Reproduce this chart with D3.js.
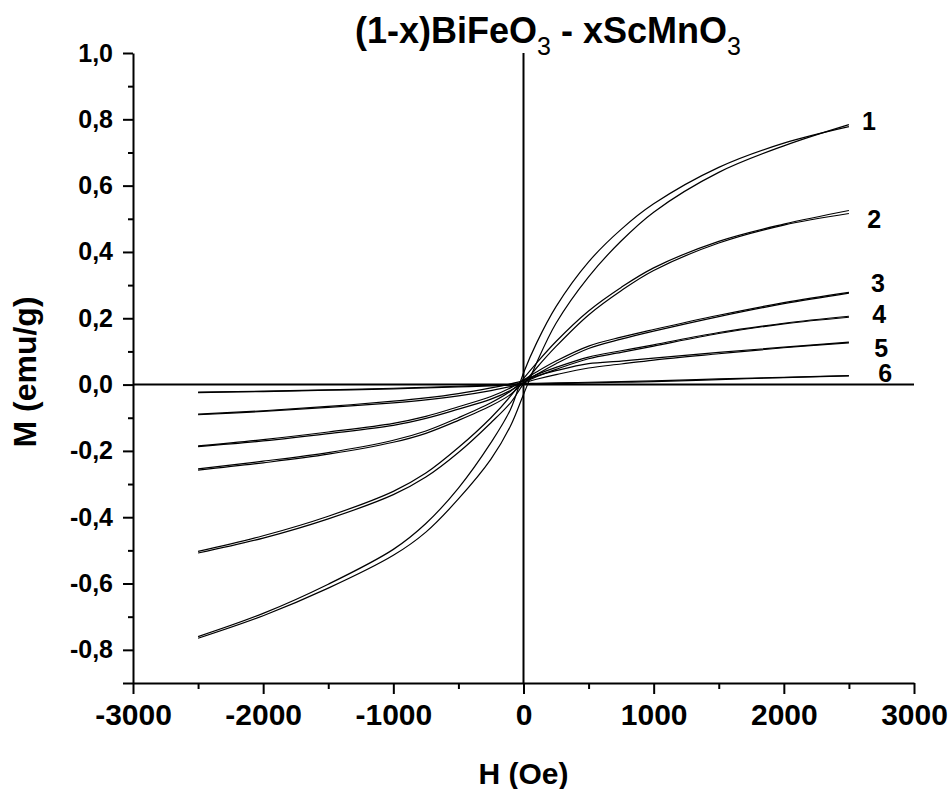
<!DOCTYPE html>
<html>
<head>
<meta charset="utf-8">
<script src="https://cdn.jsdelivr.net/npm/d3@7"></script>
<style>
  body { margin: 0; background: #fff; }
  text { font-family: "Liberation Sans", Arial, sans-serif; font-weight: bold; fill: #000; }
</style>
</head>
<body>
<div id="chart"></div>
<script>
// field values (Oe) shared by every branch
var hField = [-2500, -2000, -1500, -1000, -750, -500, -250, -100, 0, 100, 250, 500, 750, 1000, 1500, 2000, 2500];

// magnetisation (emu/g), descending-field branch / ascending-field branch
var m1Down = [-0.760, -0.690, -0.602, -0.497, -0.419, -0.312, -0.175, -0.075, 0.035, 0.125, 0.235, 0.370, 0.468, 0.545, 0.655, 0.728, 0.778];
var m1Up   = [-0.765, -0.697, -0.614, -0.515, -0.445, -0.345, -0.225, -0.125, -0.030, 0.065, 0.185, 0.325, 0.433, 0.520, 0.640, 0.720, 0.784];
var m2Down = [-0.503, -0.456, -0.397, -0.322, -0.267, -0.190, -0.100, -0.035, 0.018, 0.065, 0.130, 0.222, 0.293, 0.352, 0.432, 0.484, 0.525];
var m2Up   = [-0.508, -0.463, -0.405, -0.332, -0.279, -0.205, -0.115, -0.055, 0.002, 0.050, 0.115, 0.210, 0.283, 0.344, 0.427, 0.481, 0.516];
var m3Down = [-0.254, -0.231, -0.205, -0.168, -0.140, -0.100, -0.055, -0.020, 0.013, 0.038, 0.071, 0.116, 0.143, 0.166, 0.209, 0.247, 0.278];
var m3Up   = [-0.258, -0.236, -0.210, -0.174, -0.147, -0.108, -0.064, -0.030, 0.005, 0.030, 0.063, 0.109, 0.137, 0.161, 0.205, 0.244, 0.276];
var m4Down = [-0.185, -0.166, -0.143, -0.117, -0.096, -0.067, -0.036, -0.010, 0.013, 0.030, 0.052, 0.083, 0.102, 0.120, 0.157, 0.185, 0.206];
var m4Up   = [-0.187, -0.170, -0.148, -0.123, -0.102, -0.074, -0.044, -0.018, 0.006, 0.024, 0.046, 0.078, 0.097, 0.116, 0.154, 0.183, 0.203];
var m5Down = [-0.089, -0.079, -0.066, -0.050, -0.040, -0.027, -0.010, 0.002, 0.012, 0.026, 0.042, 0.063, 0.071, 0.080, 0.097, 0.113, 0.128];
var m5Up   = [-0.091, -0.081, -0.069, -0.055, -0.046, -0.034, -0.018, -0.006, 0.005, 0.016, 0.030, 0.050, 0.062, 0.074, 0.093, 0.111, 0.126];
var m6Down = [-0.023, -0.020, -0.016, -0.011, -0.008, -0.005, -0.002, 0.000, 0.003, 0.004, 0.005, 0.007, 0.009, 0.011, 0.017, 0.022, 0.027];
var m6Up   = [-0.024, -0.021, -0.017, -0.013, -0.010, -0.007, -0.004, -0.002, 0.001, 0.002, 0.003, 0.005, 0.007, 0.009, 0.015, 0.021, 0.026];

var curveNames = ['1', '2', '3', '4', '5', '6'];
var labelH = [2600, 2640, 2670, 2680, 2695, 2725];
var labelM = [0.768, 0.473, 0.280, 0.187, 0.084, 0.009];

var xTicks = [-3000, -2000, -1000, 0, 1000, 2000, 3000];
var xTickLabels = ['-3000', '-2000', '-1000', '0', '1000', '2000', '3000'];
var yTicks = [-0.8, -0.6, -0.4, -0.2, 0, 0.2, 0.4, 0.6, 0.8, 1.0];
var yTickLabels = ['-0,8', '-0,6', '-0,4', '-0,2', '0,0', '0,2', '0,4', '0,6', '0,8', '1,0'];

var loops = [[m1Down, m1Up], [m2Down, m2Up], [m3Down, m3Up], [m4Down, m4Up], [m5Down, m5Up], [m6Down, m6Up]];

var width = 951, height = 789;

var svg = d3.select('#chart').append('svg')
    .attr('width', width)
    .attr('height', height);

var x = d3.scaleLinear().domain([-3000, 3000]).range([133, 914]);
var y = d3.scaleLinear().domain([-0.9, 1.0]).range([683, 53]);

// minor ticks first so the axis line sits on top
var xMinor = d3.range(-2500, 3000, 1000);
var yMinor = d3.range(-9, 10, 2).map(function(d) { return d / 10; });

svg.append('g')
    .attr('transform', 'translate(0,' + y(-0.9) + ')')
    .call(d3.axisBottom(x).tickValues(xMinor).tickSize(6).tickFormat(''))
    .call(function(g) { g.select('.domain').remove(); })
    .selectAll('line').attr('stroke-width', 2);

svg.append('g')
    .attr('transform', 'translate(' + x(-3000) + ',0)')
    .call(d3.axisLeft(y).tickValues(yMinor.filter(function(d) { return d > -0.85; })).tickSize(5).tickFormat(''))
    .call(function(g) { g.select('.domain').remove(); })
    .selectAll('line').attr('stroke-width', 2);

var xAxis = svg.append('g')
    .attr('transform', 'translate(0,' + y(-0.9) + ')')
    .call(d3.axisBottom(x).tickValues(xTicks).tickSize(11).tickSizeOuter(0).tickPadding(10)
      .tickFormat(function(d, i) { return xTickLabels[i]; }));
xAxis.select('.domain').attr('stroke-width', 2);
xAxis.selectAll('line').attr('stroke-width', 2);
xAxis.selectAll('text')
    .style('font-size', '30px')
    .style('font-family', '"Liberation Sans", Arial, sans-serif')
    .style('font-weight', 'bold');

var yAxis = svg.append('g')
    .attr('transform', 'translate(' + x(-3000) + ',0)')
    .call(d3.axisLeft(y).tickValues(yTicks.concat([-0.9])).tickSize(10).tickSizeOuter(0).tickPadding(10)
      .tickFormat(function(d) { var i = yTicks.indexOf(d); return i < 0 ? '' : yTickLabels[i]; }));
yAxis.select('.domain').attr('stroke-width', 2);
yAxis.selectAll('line').attr('stroke-width', 2);
yAxis.selectAll('text')
    .style('font-size', '25px')
    .style('font-family', '"Liberation Sans", Arial, sans-serif')
    .style('font-weight', 'bold');

// zero lines through the middle
svg.append('line')
    .attr('x1', x(-3000)).attr('x2', x(3000))
    .attr('y1', y(0)).attr('y2', y(0))
    .attr('stroke', '#000').attr('stroke-width', 2);
svg.append('line')
    .attr('x1', x(0)).attr('x2', x(0))
    .attr('y1', y(1.0)).attr('y2', y(-0.9))
    .attr('stroke', '#000').attr('stroke-width', 2);

var line = d3.line()
    .x(function(d) { return x(d[0]); })
    .y(function(d) { return y(d[1]); })
    .curve(d3.curveCatmullRom.alpha(0.5));

var branches = [];
loops.forEach(function(loop) {
  loop.forEach(function(m) {
    branches.push(hField.map(function(h, i) { return [h, m[i]]; }));
  });
});

svg.append('g')
    .selectAll('path')
    .data(branches)
    .enter()
    .append('path')
    .attr('d', line)
    .attr('fill', 'none')
    .attr('stroke', '#000')
    .attr('stroke-width', 1.2);

svg.append('g')
    .selectAll('text')
    .data(curveNames)
    .enter()
    .append('text')
    .attr('x', function(d, i) { return x(labelH[i]); })
    .attr('y', function(d, i) { return y(labelM[i]); })
    .style('font-size', '25px')
    .text(function(d) { return d; });

// titles
var title = svg.append('text')
    .attr('x', 548)
    .attr('y', 43)
    .attr('text-anchor', 'middle')
    .style('font-size', '36px');
title.append('tspan').text('(1-x)BiFeO');
title.append('tspan').attr('dy', 12).style('font-size', '25px').style('font-weight', 'normal').text('3');
title.append('tspan').attr('dy', -12).text(' - xScMnO');
title.append('tspan').attr('dy', 12).style('font-size', '25px').style('font-weight', 'normal').text('3');

svg.append('text')
    .attr('x', x(0))
    .attr('y', 784)
    .attr('text-anchor', 'middle')
    .style('font-size', '30px')
    .text('H (Oe)');

svg.append('text')
    .attr('transform', 'translate(36,372) rotate(-90)')
    .attr('text-anchor', 'middle')
    .style('font-size', '32px')
    .text('M (emu/g)');
</script>
</body>
</html>
